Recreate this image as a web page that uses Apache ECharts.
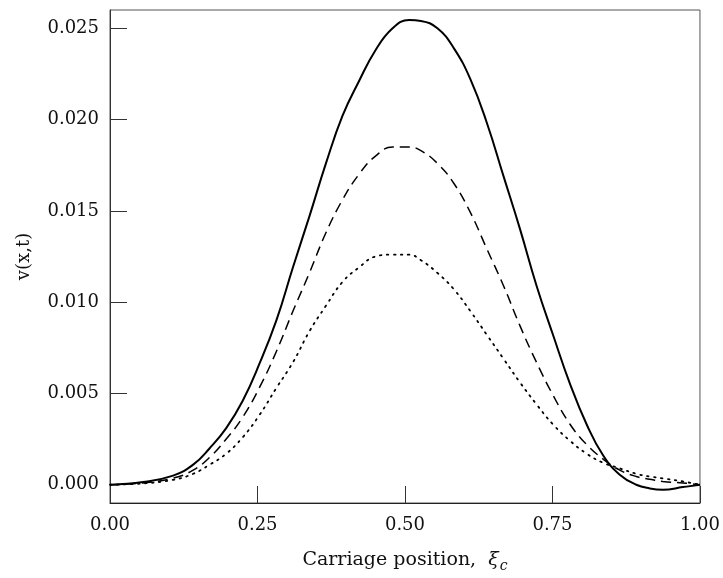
<!DOCTYPE html>
<html>
<head>
<meta charset="utf-8">
<script src="https://cdn.jsdelivr.net/npm/echarts@6/dist/echarts.min.js"></script>
<style>
html,body{margin:0;padding:0;background:#fff;}
#chart{width:723px;height:578px;}
</style>
</head>
<body>
<div id="chart"></div>
<script>
var xs = [0, 0.056, 0.107, 0.141, 0.169, 0.197, 0.225, 0.253, 0.282, 0.310, 0.338, 0.366, 0.394, 0.422, 0.450, 0.479, 0.507, 0.527, 0.555, 0.583, 0.611, 0.639, 0.667, 0.695, 0.723, 0.751, 0.780, 0.808, 0.836, 0.864, 0.892, 0.915, 0.937, 0.971, 1.0];
var solidVals = [0, 0.00015, 0.0005, 0.0011, 0.0020, 0.0031, 0.0046, 0.0066, 0.0090, 0.0119, 0.0147, 0.0176, 0.0202, 0.0221, 0.0238, 0.0250, 0.02545, 0.0254, 0.0250, 0.0239, 0.0222, 0.0198, 0.0169, 0.0140, 0.0109, 0.0082, 0.0055, 0.0033, 0.0016, 0.00055, 0.0000, -0.0002, -0.00027, -0.00013, 0.0];
var dashedVals = [0, 0.0001, 0.00036, 0.0008, 0.0015, 0.0025, 0.0037, 0.0053, 0.0073, 0.0095, 0.0116, 0.0138, 0.0156, 0.0170, 0.0180, 0.0185, 0.0185, 0.0183, 0.0176, 0.0165, 0.0149, 0.0129, 0.0109, 0.0087, 0.0067, 0.0049, 0.0033, 0.0022, 0.0014, 0.0008, 0.00045, 0.0003, 0.00018, 0.0001, 0];
var dottedVals = [0, 0.00007, 0.00027, 0.0006, 0.0011, 0.0017, 0.0026, 0.0038, 0.0053, 0.0067, 0.0084, 0.0098, 0.0111, 0.0119, 0.0125, 0.0126, 0.0126, 0.0123, 0.0116, 0.0107, 0.0095, 0.0082, 0.0069, 0.0056, 0.0044, 0.0033, 0.0024, 0.0017, 0.0012, 0.0009, 0.0006, 0.00045, 0.00035, 0.00018, 0];
var yTicks = [0, 0.005, 0.010, 0.015, 0.020, 0.025];

function pairs(vals){ return xs.map(function(x,i){ return [x, vals[i]]; }); }

var FONT = 'DejaVu Serif';
var chart = echarts.init(document.getElementById('chart'), null, {renderer:'canvas'});
chart.setOption({
  animation: false,
  backgroundColor: '#fff',
  grid: {left:110, right:21, top:10, bottom:73, show:true, borderColor:'#555', borderWidth:1, containLabel:false},
  xAxis: {
    type:'value', min:0, max:1, interval:0.25,
    axisLine:{show:true, onZero:false, lineStyle:{color:'#222', width:1}},
    axisTick:{show:true, inside:true, length:17, lineStyle:{color:'#333'}},
    splitLine:{show:false},
    axisLabel:{color:'#111', fontFamily:FONT, fontSize:18, margin:13, formatter:function(v){return v.toFixed(2);}},
    name:'{a|Carriage position,  }{b|ξ}{s|c}',
    nameLocation:'middle', nameGap:44,
    nameTextStyle:{
      color:'#111', fontFamily:FONT, fontSize:18,
      rich:{
        a:{fontFamily:FONT, fontSize:19, color:'#111'},
        b:{fontFamily:FONT, fontSize:19, fontStyle:'italic', color:'#111'},
        s:{fontFamily:FONT, fontSize:14, fontStyle:'italic', color:'#111', padding:[12,0,0,1]}
      }
    }
  },
  yAxis: {
    type:'value', min:-0.001, max:0.026,
    axisLine:{show:true, onZero:false, lineStyle:{color:'#333', width:1}},
    axisTick:{show:true, inside:true, length:17, customValues:yTicks, lineStyle:{color:'#333'}},
    splitLine:{show:false},
    axisLabel:{color:'#111', fontFamily:FONT, fontSize:18, margin:11, customValues:yTicks, formatter:function(v){return v.toFixed(3);}},
    name:'v(x,t)', nameLocation:'middle', nameRotate:90, nameGap:77,
    nameTextStyle:{color:'#111', fontFamily:FONT, fontSize:18}
  },
  series: [
    {type:'line', data:pairs(solidVals), smooth:0.45, showSymbol:false, lineStyle:{color:'#000', width:2, type:'solid'}},
    {type:'line', data:pairs(dashedVals), smooth:0.45, showSymbol:false, lineStyle:{color:'#000', width:1.5, type:[10,6]}},
    {type:'line', data:pairs(dottedVals), smooth:0.45, showSymbol:false, lineStyle:{color:'#000', width:1.8, type:[1.5,5.5], cap:'round'}}
  ]
});
</script>
</body>
</html>
